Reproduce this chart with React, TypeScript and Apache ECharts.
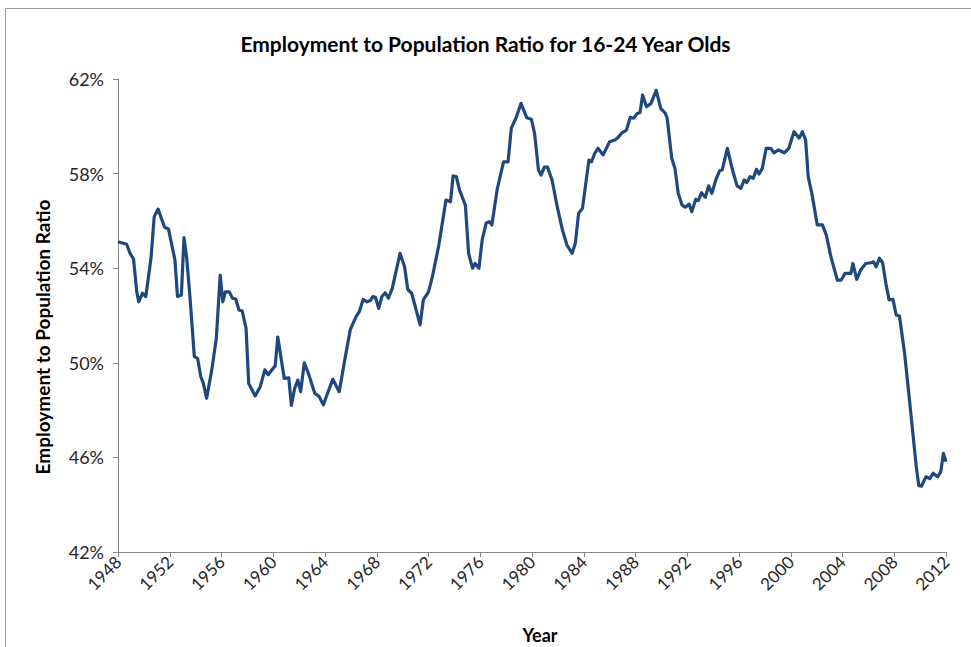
import React, { useEffect, useRef } from "react";
import * as echarts from "echarts";

const years: number[] = [
  1948.0, 1948.67, 1948.93, 1949.2, 1949.45, 1949.6, 1949.9, 1950.15, 1950.55, 1950.8,
  1951.1, 1951.4, 1951.6, 1951.9, 1952.4, 1952.6, 1952.9, 1953.1, 1953.3, 1953.55,
  1953.9, 1954.15, 1954.4, 1954.6, 1954.85, 1955.25, 1955.6, 1955.9, 1956.1, 1956.3,
  1956.6, 1956.85, 1957.1, 1957.35, 1957.6, 1957.9, 1958.1, 1958.6, 1959.0, 1959.35,
  1959.6, 1960.15, 1960.35, 1960.85, 1961.2, 1961.4, 1961.65, 1961.9, 1962.12, 1962.4,
  1962.75, 1963.2, 1963.55, 1963.87, 1964.2, 1964.6, 1965.1, 1965.55, 1965.95, 1966.4,
  1966.65, 1966.95, 1967.25, 1967.5, 1967.7, 1967.9, 1968.15, 1968.4, 1968.65, 1968.9,
  1969.2, 1969.8, 1970.15, 1970.4, 1970.7, 1971.35, 1971.6, 1972.0, 1972.3, 1972.8,
  1973.35, 1973.7, 1973.9, 1974.15, 1974.4, 1974.85, 1975.1, 1975.4, 1975.6, 1975.9,
  1976.15, 1976.45, 1976.7, 1976.9, 1977.3, 1977.8, 1978.15, 1978.4, 1978.8, 1979.15,
  1979.6, 1979.95, 1980.2, 1980.5, 1980.7, 1980.95, 1981.2, 1981.55, 1981.95, 1982.35,
  1982.7, 1983.1, 1983.35, 1983.6, 1983.9, 1984.4, 1984.6, 1984.85, 1985.1, 1985.5,
  1986.0, 1986.4, 1986.65, 1986.9, 1987.3, 1987.6, 1987.85, 1988.15, 1988.35, 1988.55,
  1988.85, 1989.2, 1989.6, 1989.95, 1990.3, 1990.45, 1990.8, 1991.05, 1991.3, 1991.6,
  1991.85, 1992.15, 1992.35, 1992.65, 1992.85, 1993.1, 1993.4, 1993.65, 1993.9, 1994.25,
  1994.5, 1994.7, 1995.1, 1995.5, 1995.85, 1996.15, 1996.4, 1996.6, 1996.85, 1997.1,
  1997.35, 1997.55, 1997.8, 1998.1, 1998.45, 1998.7, 1999.05, 1999.5, 1999.85, 2000.25,
  2000.65, 2000.9, 2001.15, 2001.35, 2001.65, 2002.05, 2002.45, 2002.75, 2003.1, 2003.6,
  2003.9, 2004.2, 2004.65, 2004.8, 2005.1, 2005.4, 2005.8, 2006.2, 2006.4, 2006.6,
  2006.85, 2007.1, 2007.35, 2007.6, 2007.9, 2008.15, 2008.4, 2008.8, 2009.15, 2009.7,
  2009.9, 2010.1, 2010.45, 2010.75, 2011.0, 2011.35, 2011.6, 2011.8, 2012.0,
];

const ratio: number[] = [
  55.12, 55.01, 54.63, 54.39, 53.0, 52.58, 52.94, 52.8, 54.42, 56.18,
  56.5, 56.04, 55.73, 55.66, 54.35, 52.8, 52.87, 55.29, 54.49, 52.87,
  50.26, 50.19, 49.41, 49.13, 48.5, 49.7, 51.04, 53.71, 52.58, 53.0,
  53.0, 52.73, 52.7, 52.23, 52.19, 51.46, 49.13, 48.6, 49.0, 49.7,
  49.5, 49.87, 51.09, 49.34, 49.36, 48.2, 48.9, 49.27, 48.78, 50.0,
  49.5, 48.72, 48.57, 48.22, 48.71, 49.3, 48.78, 50.19, 51.39, 51.95,
  52.16, 52.68, 52.58, 52.63, 52.8, 52.77, 52.3, 52.8, 52.96, 52.73,
  53.15, 54.63, 54.06, 53.1, 52.94, 51.6, 52.66, 53.0, 53.64, 54.98,
  56.88, 56.81, 57.9, 57.87, 57.3, 56.67, 54.63, 54.0, 54.2, 54.0,
  55.2, 55.9, 55.97, 55.83, 57.31, 58.5, 58.5, 59.92, 60.4, 60.97,
  60.36, 60.3, 59.7, 58.15, 57.94, 58.27, 58.27, 57.73, 56.6, 55.62,
  54.98, 54.63, 55.05, 56.32, 56.53, 58.57, 58.5, 58.86, 59.07, 58.79,
  59.35, 59.42, 59.53, 59.7, 59.84, 60.38, 60.34, 60.55, 60.58, 61.32,
  60.83, 60.97, 61.52, 60.76, 60.55, 60.34, 58.65, 58.22, 57.17, 56.67,
  56.58, 56.71, 56.39, 56.91, 56.86, 57.19, 57.0, 57.48, 57.17, 57.8,
  58.12, 58.15, 59.07, 58.15, 57.48, 57.38, 57.73, 57.62, 57.87, 57.8,
  58.18, 57.98, 58.22, 59.07, 59.07, 58.88, 59.0, 58.88, 59.07, 59.77,
  59.5, 59.77, 59.42, 57.87, 57.1, 55.83, 55.83, 55.4, 54.49, 53.5,
  53.5, 53.78, 53.78, 54.2, 53.53, 53.92, 54.2, 54.23, 54.27, 54.06,
  54.42, 54.23, 53.36, 52.66, 52.68, 52.02, 51.98, 50.4, 48.57, 45.61,
  44.8, 44.78, 45.18, 45.1, 45.33, 45.18, 45.4, 46.17, 45.82,
];

const yTicks = { min: 42, max: 62, step: 4 };
const xTicks = { min: 1948, max: 2012, step: 4 };

const titleText = "Employment to Population Ratio for 16-24 Year Olds";
const yName = "Employment to Population Ratio";
const xName = "Year";

export default function App() {
  const ref = useRef<HTMLDivElement>(null);

  useEffect(() => {
    document.body.style.margin = "0";
    if (!ref.current) return;
    const chart = echarts.init(ref.current, null, { renderer: "svg" });
    const data = years.map((y, i) => [y, ratio[i]]);
    const axisGray = "#868686";
    const labelColor = "#262626";
    chart.setOption({
      animation: false,
      backgroundColor: "#ffffff",
      title: {
        text: titleText,
        left: "center",
        top: 28,
        textStyle: {
          fontFamily: "Lato",
          fontWeight: "bold",
          fontSize: 21,
          color: "#000000",
        },
      },
      graphic: [
        {
          type: "rect",
          shape: { x: 5.5, y: 8.5, width: 980, height: 660 },
          style: { fill: "none", stroke: "#9a9a9a", lineWidth: 1 },
          silent: true,
        },
        {
          type: "text",
          x: 42,
          y: 337,
          rotation: Math.PI / 2,
          style: {
            text: yName,
            align: "center",
            verticalAlign: "middle",
            fontFamily: "Lato",
            fontWeight: "bold",
            fontSize: 19,
            fill: "#000000",
          },
          silent: true,
        },
      ],
      grid: {
        left: 118,
        top: 79,
        right: 25,
        bottom: 95,
        containLabel: false,
        outerBoundsMode: "none",
      },
      xAxis: {
        type: "value",
        min: xTicks.min,
        max: xTicks.max,
        interval: xTicks.step,
        name: xName,
        nameLocation: "middle",
        nameGap: 74,
        nameTextStyle: {
          fontFamily: "Lato",
          fontWeight: "bold",
          fontSize: 18,
          color: "#000000",
          padding: [0, 0, 0, 16],
        },
        axisLine: { show: true, lineStyle: { color: axisGray, width: 1 } },
        axisTick: { show: true, length: 5, lineStyle: { color: axisGray } },
        splitLine: { show: false },
        axisLabel: {
          rotate: 45,
          margin: 7,
          fontFamily: "Lato",
          fontSize: 17,
          color: labelColor,
          formatter: (v: number) => String(v),
        },
      },
      yAxis: {
        type: "value",
        min: yTicks.min,
        max: yTicks.max,
        interval: yTicks.step,
        splitLine: { show: false },
        axisLine: { show: true, lineStyle: { color: axisGray, width: 1 } },
        axisTick: { show: true, length: 5, lineStyle: { color: axisGray } },
        axisLabel: {
          margin: 14,
          fontFamily: "Lato",
          fontSize: 18,
          color: labelColor,
          formatter: (v: number) => v + "%",
        },
      },
      series: [
        {
          type: "line",
          data,
          showSymbol: false,
          symbol: "none",
          smooth: false,
          clip: true,
          lineStyle: { color: "#1f497d", width: 3.2, join: "round" },
        },
      ],
    });
    return () => chart.dispose();
  }, []);

  return <div ref={ref} style={{ width: 971, height: 647 }} />;
}
